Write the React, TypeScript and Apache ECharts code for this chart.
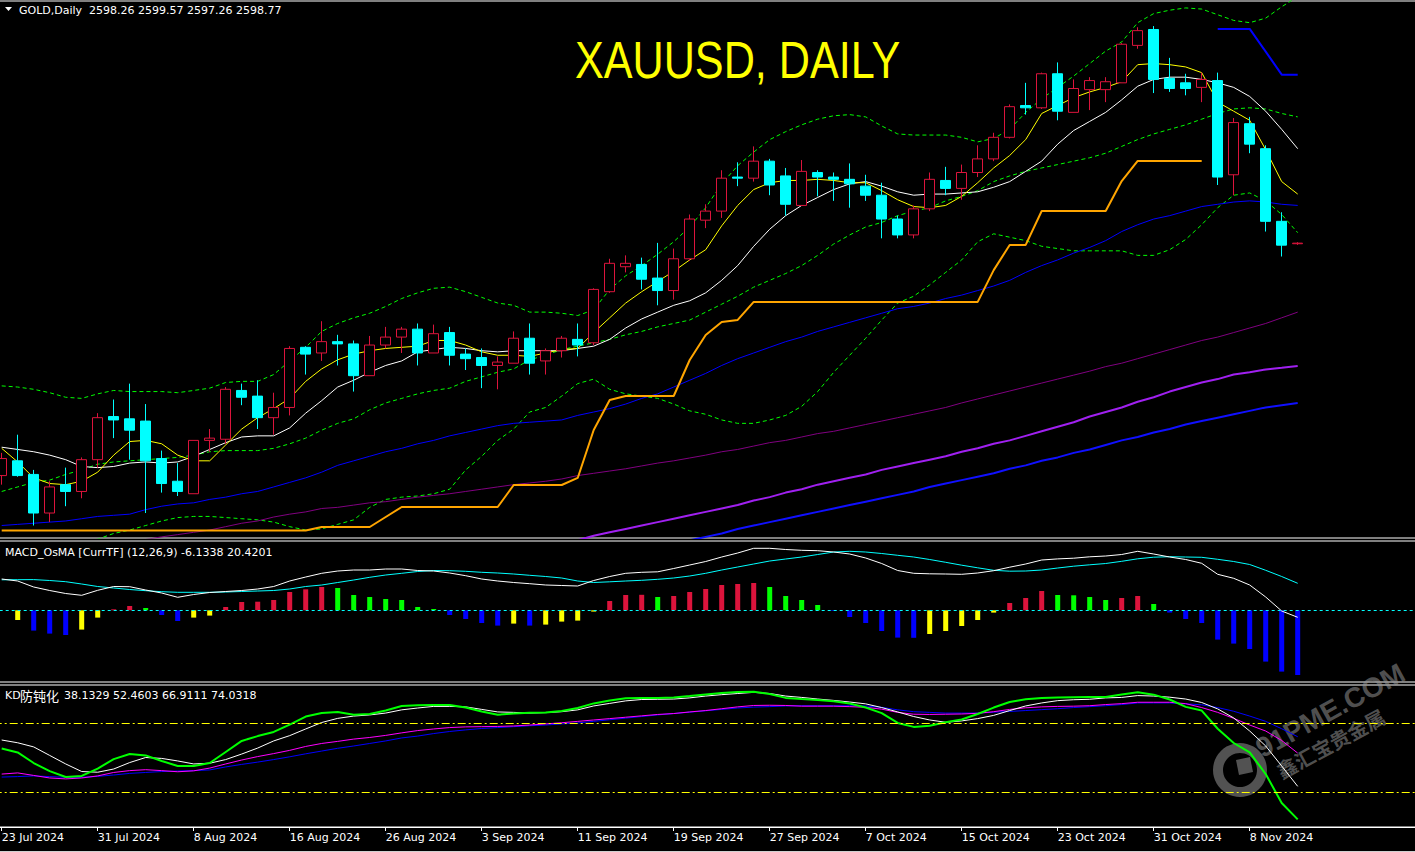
import React, { useEffect, useRef } from "react";
import * as echarts from "echarts";

// ---------- data ----------
const dates = [
  "23 Jul 2024","24 Jul 2024","25 Jul 2024","26 Jul 2024","29 Jul 2024","30 Jul 2024","31 Jul 2024",
  "1 Aug 2024","2 Aug 2024","5 Aug 2024","6 Aug 2024","7 Aug 2024","8 Aug 2024","9 Aug 2024",
  "12 Aug 2024","13 Aug 2024","14 Aug 2024","15 Aug 2024","16 Aug 2024",
  "19 Aug 2024","20 Aug 2024","21 Aug 2024","22 Aug 2024","23 Aug 2024",
  "26 Aug 2024","27 Aug 2024","28 Aug 2024","29 Aug 2024","30 Aug 2024",
  "2 Sep 2024","3 Sep 2024","4 Sep 2024","5 Sep 2024","6 Sep 2024",
  "9 Sep 2024","10 Sep 2024","11 Sep 2024","12 Sep 2024","13 Sep 2024",
  "16 Sep 2024","17 Sep 2024","18 Sep 2024","19 Sep 2024","20 Sep 2024",
  "23 Sep 2024","24 Sep 2024","25 Sep 2024","26 Sep 2024","27 Sep 2024",
  "30 Sep 2024","1 Oct 2024","2 Oct 2024","3 Oct 2024","4 Oct 2024",
  "7 Oct 2024","8 Oct 2024","9 Oct 2024","10 Oct 2024","11 Oct 2024",
  "14 Oct 2024","15 Oct 2024","16 Oct 2024","17 Oct 2024","18 Oct 2024",
  "21 Oct 2024","22 Oct 2024","23 Oct 2024","24 Oct 2024","25 Oct 2024",
  "28 Oct 2024","29 Oct 2024","30 Oct 2024","31 Oct 2024",
  "1 Nov 2024","4 Nov 2024","5 Nov 2024","6 Nov 2024","7 Nov 2024","8 Nov 2024",
  "11 Nov 2024","12 Nov 2024","13 Nov 2024",
];

const opens = [
  2394, 2407, 2395, 2361, 2386, 2380, 2408, 2446, 2444, 2442,
  2409, 2389, 2378, 2425, 2426, 2469, 2464, 2445, 2454, 2507,
  2502, 2512, 2510, 2482, 2509, 2516, 2523, 2502, 2520, 2501,
  2498, 2491, 2493, 2515, 2495, 2504, 2514, 2511, 2556, 2578,
  2580, 2568, 2557, 2585, 2619, 2627, 2657, 2656, 2671, 2658,
  2632, 2661, 2657, 2655, 2649, 2641, 2620, 2606, 2629, 2654,
  2647, 2661, 2673, 2692, 2720, 2718, 2748, 2714, 2734, 2734,
  2740, 2773, 2787, 2744, 2740, 2736, 2742, 2659, 2704, 2682,
  2618, 2598.26,
];
const closes = [
  2409, 2394, 2361, 2384, 2380, 2408, 2445, 2443, 2434, 2407,
  2387, 2380, 2425, 2427, 2470, 2463, 2445, 2454, 2506, 2501,
  2512, 2510, 2482, 2509, 2516, 2523, 2502, 2519, 2500, 2497,
  2491, 2494, 2515, 2493, 2504, 2515, 2509, 2558, 2581, 2581,
  2567, 2557, 2585, 2620, 2627, 2656, 2656, 2671, 2650, 2633,
  2662, 2657, 2655, 2651, 2641, 2620, 2606, 2629, 2655, 2647,
  2661, 2673, 2692, 2719, 2718, 2748, 2715, 2735, 2742, 2741,
  2774, 2786, 2743, 2735, 2735, 2743, 2657, 2705, 2686, 2618,
  2597, 2598.77,
];
const lows = [
  2386, 2393, 2350, 2353, 2367, 2374, 2401, 2427, 2408, 2361,
  2379, 2376, 2378, 2415, 2422, 2456, 2435, 2430, 2447, 2483,
  2495, 2491, 2468, 2482, 2506, 2502, 2491, 2502, 2491, 2487,
  2471, 2470, 2493, 2483, 2483, 2498, 2499, 2509, 2555, 2573,
  2558, 2544, 2549, 2583, 2612, 2621, 2649, 2653, 2641, 2623,
  2632, 2640, 2636, 2630, 2636, 2603, 2603, 2603, 2627, 2641,
  2637, 2657, 2671, 2691, 2712, 2717, 2707, 2714, 2716, 2723,
  2740, 2770, 2731, 2732, 2729, 2723, 2650, 2641, 2678, 2609,
  2587, 2597.26,
];
const highs = [
  2414, 2430, 2399, 2389, 2401, 2410, 2449, 2461, 2475, 2457,
  2416, 2405, 2425, 2435, 2472, 2475, 2478, 2467, 2508, 2508,
  2530, 2518, 2513, 2517, 2525, 2525, 2528, 2527, 2525, 2506,
  2506, 2499, 2521, 2528, 2506, 2517, 2528, 2559, 2585, 2588,
  2586, 2599, 2594, 2624, 2633, 2663, 2670, 2684, 2673, 2665,
  2672, 2663, 2661, 2669, 2659, 2652, 2623, 2632, 2661, 2666,
  2668, 2685, 2696, 2721, 2740, 2749, 2758, 2743, 2745, 2745,
  2775, 2789, 2790, 2762, 2748, 2749, 2749, 2709, 2710, 2685,
  2626, 2599.57,
];

// yellow (fast average)
const maFast = [
  2418, 2406, 2392, 2387, 2386, 2389, 2397, 2412, 2424, 2425,
  2422, 2412, 2407, 2407, 2421, 2435, 2445, 2453, 2462, 2477,
  2488, 2496, 2501, 2504, 2506, 2507, 2508, 2513, 2513, 2509,
  2503, 2500, 2500, 2499, 2502, 2505, 2506, 2520, 2533, 2546,
  2556, 2565, 2574, 2584, 2593, 2614, 2632, 2646, 2652, 2654,
  2654, 2655, 2654, 2652, 2652, 2645, 2637, 2631, 2630, 2632,
  2640, 2652, 2665, 2676, 2690, 2713, 2720, 2727, 2732, 2736,
  2741, 2756, 2757, 2756, 2754, 2749, 2723, 2715, 2707, 2681,
  2653, 2642,
];
// white (slower average)
const maSlow = [
  2419, 2417, 2415, 2412, 2408, 2402, 2401, 2402, 2405, 2406,
  2405, 2406, 2411, 2417, 2423, 2428, 2429, 2429, 2436, 2449,
  2460, 2472, 2478, 2485, 2491, 2495, 2503, 2505, 2507, 2506,
  2504, 2503, 2504, 2504, 2504, 2504, 2506, 2508, 2514, 2524,
  2532, 2538, 2544, 2548, 2555, 2566, 2579, 2596, 2611, 2623,
  2632, 2639, 2646, 2651, 2653, 2649, 2644, 2641, 2642, 2642,
  2643, 2644, 2648, 2653, 2662, 2671, 2686, 2698, 2706, 2714,
  2725, 2737, 2743, 2745, 2745, 2743, 2740, 2736, 2728, 2715,
  2699, 2682,
];
const bbUpper = [
  2473, 2472, 2470, 2467, 2463, 2462, 2466, 2469, 2468, 2468,
  2468, 2467, 2469, 2471, 2476, 2477, 2477, 2483, 2495, 2507,
  2521, 2528, 2533, 2537, 2543, 2550, 2555, 2559, 2560, 2556,
  2551, 2546, 2544, 2538, 2538, 2537, 2535, 2540, 2558, 2570,
  2579, 2589, 2600, 2613, 2630, 2651, 2667, 2679, 2690, 2697,
  2703, 2708, 2711, 2712, 2710, 2702, 2695, 2694, 2694, 2694,
  2692, 2688, 2691, 2699, 2714, 2726, 2736, 2746, 2757, 2768,
  2776, 2793, 2801, 2804, 2806, 2805, 2800, 2795, 2793, 2797,
  2807, 2816,
];
const bbMiddle = [
  2380, 2384, 2388, 2390, 2395, 2399, 2404, 2406, 2407, 2408,
  2409, 2410, 2412, 2415, 2416, 2416, 2416, 2418, 2422, 2427,
  2434, 2440, 2444, 2452, 2458, 2462, 2466, 2469, 2471, 2477,
  2481, 2485, 2488, 2496, 2500, 2505, 2508, 2511, 2514, 2518,
  2521, 2525, 2528, 2531, 2538, 2545, 2552, 2560, 2566, 2572,
  2579, 2588, 2598, 2606, 2613, 2617, 2623, 2627, 2630, 2636,
  2640, 2645, 2653, 2658, 2662, 2665, 2668, 2671, 2674, 2678,
  2684, 2690, 2695, 2699, 2703, 2708, 2713, 2717, 2718, 2717,
  2713, 2710,
];
const bbLower = [
  2288, 2297, 2305, 2314, 2326, 2336, 2338, 2343, 2346, 2350,
  2354, 2357, 2358, 2358, 2357, 2356, 2355, 2353, 2349, 2346,
  2347, 2351, 2355, 2366, 2373, 2375, 2376, 2378, 2382, 2399,
  2411, 2425, 2435, 2450, 2454, 2464, 2475, 2479, 2470, 2466,
  2464, 2462, 2457, 2451, 2448, 2443, 2440, 2440, 2443, 2447,
  2455, 2468, 2485, 2500, 2515, 2531, 2546, 2552, 2562, 2573,
  2584, 2600, 2607, 2604, 2601, 2596, 2594, 2592, 2592, 2592,
  2592, 2588, 2588, 2593, 2602, 2615, 2630, 2641, 2643, 2636,
  2624, 2608,
];
// thin blue average
const maBlue = [
  2350, 2351, 2352, 2353, 2354, 2356, 2358, 2359, 2360, 2364,
  2367, 2369, 2370, 2373, 2375, 2378, 2380, 2384, 2388, 2392,
  2397, 2403, 2407, 2411, 2415, 2418, 2422, 2425, 2429, 2432,
  2435, 2438, 2440, 2441, 2442, 2443, 2447, 2450, 2453, 2457,
  2462, 2466, 2472, 2478, 2484, 2491, 2497, 2502, 2507, 2512,
  2516, 2521, 2525, 2529, 2533, 2537, 2541, 2543, 2546, 2550,
  2553, 2557, 2561, 2566, 2573, 2579, 2584, 2590, 2595, 2601,
  2609, 2615, 2620, 2623, 2627, 2631, 2633, 2635, 2636, 2635,
  2633, 2632,
];
// thin purple average (visible from bar 8)
const maPurpleStart = 8;
const maPurple = [
  2335.5, 2337.7, 2340, 2342, 2344, 2346, 2349, 2352, 2354, 2357.5,
  2360, 2362, 2365, 2366, 2368, 2370, 2371, 2373, 2375, 2376.5,
  2378, 2380, 2382, 2384, 2386, 2387.5, 2389, 2391, 2394, 2396,
  2398, 2400, 2402.5, 2405, 2407, 2409.5, 2412, 2415, 2417, 2420,
  2423, 2425, 2428, 2431, 2433, 2436, 2439, 2442, 2445, 2448,
  2451, 2454, 2458, 2461.5, 2465, 2468.5, 2472, 2475.5, 2479, 2482.5,
  2486, 2490, 2493, 2497, 2501, 2505, 2509, 2513, 2516, 2520,
  2524, 2528, 2533, 2538,
];
// thick violet average (visible from bar 36)
const maVioletStart = 36;
const maViolet = [
  2337, 2341, 2344, 2347, 2350, 2353, 2356, 2359, 2362, 2365,
  2368, 2372, 2375, 2379, 2382, 2386, 2389, 2392, 2395, 2399,
  2402, 2405, 2408, 2411, 2415, 2418, 2422, 2425, 2429, 2433,
  2437, 2441, 2446, 2450, 2454, 2459, 2463, 2468, 2472, 2476,
  2479, 2483, 2485, 2487.5, 2489, 2490.6,
];
// thick blue average (visible from bar 43)
const maBlueThickStart = 43;
const maBlueThick = [
  2337, 2340, 2343, 2347, 2350, 2353, 2356, 2359, 2362, 2365,
  2368, 2371, 2374, 2377, 2380, 2384, 2387, 2390, 2393, 2396,
  2400, 2403, 2407, 2410, 2414, 2417, 2421, 2425, 2428, 2432,
  2435, 2439, 2442, 2445, 2448, 2451, 2454, 2456, 2458,
];
// orange trailing stop (bars 0..75)
const stopUp = [
  2345.6, 2345.6, 2345.6, 2345.6, 2345.6, 2345.6, 2345.6, 2345.6, 2345.6, 2345.6,
  2345.6, 2345.6, 2345.6, 2345.6, 2345.6, 2345.6, 2345.6, 2345.6, 2345.6, 2345.6,
  2348.7, 2348.7, 2348.7, 2348.7, 2357.5, 2366.3, 2366.3, 2366.3, 2366.3, 2366.3,
  2366.3, 2366.3, 2385.7, 2385.7, 2385.7, 2385.7, 2391.9, 2434.2, 2460.6, 2464.1,
  2464.1, 2464.1, 2464.1, 2495.8, 2517.9, 2529.3, 2531.1, 2547, 2547, 2547,
  2547, 2547, 2547, 2547, 2547, 2547, 2547, 2547, 2547, 2547,
  2547, 2547, 2575, 2597.2, 2597.2, 2627.1, 2627.1, 2627.1, 2627.1, 2627.1,
  2653.5, 2671.2, 2671.2, 2671.2, 2671.2, 2671.2,
];
// blue trailing stop (bars 76..81)
const stopDownStart = 76;
const stopDown = [2787.5, 2787.5, 2787.5, 2767.5, 2747.2, 2747.2];

// MACD_OsMA panel
const osma = [
  null, -9.7, -20.3, -23.3, -24.7, -19.3, -7.3, 1, 4.3, 2.3,
  -4.7, -10.7, -7.3, -5.3, 3.3, 8.3, 8.6, 10.3, 18.3, 21,
  23.3, 22.3, 15.3, 13.3, 11.3, 10.3, 3.3, 1.3, -4.7, -8.7,
  -12.7, -15.3, -13.3, -15.3, -14.3, -11.3, -10.3, -1.3, 9.3, 15.3,
  15.5, 13.3, 14.3, 18.3, 21.3, 25.3, 26.3, 27.3, 23.3, 14.3,
  10.3, 5.3, -0.7, -6.7, -12.7, -20.7, -27.3, -27.5, -23.7, -20.7,
  -15.7, -9.7, -2.3, 7.3, 12.3, 19.3, 15.3, 15.0, 13.3, 10.3,
  12.3, 14.3, 6.3, -2.3, -8.7, -12.7, -29.3, -33.3, -38.7, -51.3,
  -61.3, -64.7,
];
const macdMain = [
  31.3, 29.3, 23.3, 19.8, 16.8, 15, 20, 23.8, 23.6, 20.3,
  17.3, 13, 15.8, 17.8, 18.8, 19.8, 21.3, 23.8, 29.3, 33.3,
  37, 39.3, 40.3, 40.3, 41.3, 41.3, 39.8, 39.3, 37.3, 34.6,
  31.3, 29.3, 27.8, 26.6, 25.3, 24.8, 24.3, 29.8, 33.8, 37,
  38, 38.5, 41.8, 45.3, 48.8, 53.3, 57.3, 62, 62, 60.8,
  60, 59.6, 58.3, 56.3, 52.3, 46.8, 39.8, 37, 36.5, 36.3,
  36, 37.3, 39.6, 43.1, 46.3, 50.3, 51.4, 52.1, 53.5, 54.3,
  55.8, 59, 56.3, 53.3, 50.8, 47, 36, 32, 25.3, 13.3,
  -0.7, -7,
];
const macdSignal = [
  30.5, 30.6, 30.7, 29.8, 28.6, 26.3, 23.8, 22.3, 20.8, 19.6,
  18.6, 18, 18, 18, 18.3, 18.8, 19.3, 19.8, 21.3, 23.8,
  25.3, 27.8, 30.3, 33, 35.3, 37, 38.8, 39.8, 39.6, 39,
  38, 37.3, 36.3, 35, 33.8, 32.3, 29.3, 27.8, 28.5, 29.3,
  30, 31, 32.3, 34.3, 37, 40.3, 43.3, 46.3, 49.3, 51.3,
  53.3, 55.8, 58.3, 59, 58.3, 56.8, 55, 53.3, 50.8, 48,
  45.1, 42.5, 40, 39.1, 39.3, 40.3, 42.3, 44.1, 45.5, 46.8,
  49, 51.5, 53.1, 53.6, 53.3, 53, 51, 48.8, 45.8, 40,
  33.8, 27,
];

// KD panel
const kdGreen = [
  68.9, 67.2, 62.6, 59.1, 56.5, 57, 60.2, 64.3, 66.5, 65.9,
  63.5, 61.3, 61.3, 62.6, 67.4, 72.2, 74.3, 76.1, 79.3, 82.8,
  84.3, 84.8, 83.6, 83.9, 85.4, 87.4, 87.7, 87.8, 87.8, 86.7,
  85, 83.6, 84.1, 84.4, 84.6, 85.2, 86.5, 88.5, 89.8, 90.7,
  90.9, 90.8, 91.1, 91.7, 92.4, 93, 93.5, 93.6, 92.6, 90.9,
  90.4, 90, 89.4, 88.5, 86.7, 84.3, 80, 78.3, 78.8, 80.3,
  81.5, 83.9, 86.7, 89.1, 90.3, 90.9, 91.1, 91.2, 91.3, 91.3,
  92.4, 93.3, 92.3, 90.2, 87, 85.4, 77.5, 71.3, 67.2, 57.8,
  45.2, 38.13,
];
const kdWhite = [
  72.6, 71.4, 69.6, 65.9, 62.2, 58.9, 58.6, 60, 62.8, 65,
  64.6, 63.5, 62.2, 62.5, 64.1, 66.5, 69.1, 72.2, 74.5, 77.4,
  80.2, 82, 83, 83.5, 84.3, 85.7, 86.5, 87.2, 87.2, 87,
  85.9, 84.8, 84.6, 84.3, 84.5, 84.9, 85.7, 87.4, 88.5, 89.6,
  90.2, 90.3, 90.4, 90.9, 91.7, 92.3, 92.8, 93.3, 92.8, 91.7,
  91.1, 90.4, 89.8, 89.1, 88.3, 86.7, 84.8, 82.8, 81.3, 80.3,
  80.9, 81.9, 83.3, 85.4, 87.4, 88.7, 89.7, 90.1, 90.3, 90.9,
  91.1, 91.9, 91.7, 91.2, 90.4, 88.9, 86.1, 82.2, 76.5, 70,
  61.3, 52.46,
];
const kdMagenta = [
  57.8, 58.3, 57.2, 56.1, 55.7, 56.1, 57, 58.5, 59.3, 59.7,
  59.3, 58.8, 59.2, 60.4, 62.2, 63.9, 65.4, 66.7, 68.1, 69.8,
  71.1, 72, 73, 73.7, 74.6, 75.7, 76.7, 77.4, 78, 78.3,
  78.4, 78.5, 78.7, 79.1, 79.6, 80.1, 80.7, 81.3, 81.9, 82.5,
  83.1, 83.7, 84.1, 84.8, 85.4, 86.2, 87, 87.6, 87.7, 87.6,
  87.3, 87.3, 87.3, 87.1, 86.8, 86, 84.6, 83.8, 83.7, 83.8,
  83.9, 84.2, 84.9, 85.9, 86.6, 87, 87.2, 87.3, 87.5, 88,
  88.4, 89, 89, 89, 88.4, 86.7, 84.6, 82, 79.1, 76.5,
  72.4, 66.91,
];
const kdBlue = [
  56.5, 56.7, 57, 56.7, 56.4, 56.4, 56.8, 57.4, 58.1, 58.5,
  58.9, 59.1, 59.3, 59.6, 60.9, 62, 63, 64.1, 65.3, 66.6,
  67.8, 69, 70, 71.1, 72.2, 73.5, 74.3, 75.4, 76.3, 77,
  77.6, 78, 78.4, 78.8, 79.1, 79.6, 80, 80.7, 81.4, 82.1,
  82.8, 83.5, 84.1, 84.7, 85.3, 85.9, 86.5, 86.9, 87.1, 87.4,
  87.5, 87.5, 87.5, 87.5, 87.4, 86.8, 85.7, 84.9, 84.6, 84.3,
  84.3, 84.3, 84.7, 85, 85.4, 85.8, 86.2, 86.7, 87.1, 87.5,
  88, 88.7, 88.7, 88.7, 88.3, 87.9, 86.7, 85.1, 83, 80.7,
  77.5, 74.03,
];
const kdLevels = [80, 50];

const headerText = "GOLD,Daily  2598.26 2599.57 2597.26 2598.77";
const macdTitle = "MACD_OsMA [CurrTF] (12,26,9) -6.1338 20.4201";
const kdName = "KD";
const kdNameCjk = "防钝化";
const kdValues = "38.1329 52.4603 66.9111 74.0318";
const chartTitle = "XAUUSD, DAILY";
const labelEvery = 6;

// ---------- layout ----------
const W = 1415;
const H = 852;
const OX = 8; // canvas starts 8px left of the page so the first bar can sit at x≈1.7
const CW = W + OX + 16;
const BAR_PX = 16;
const PAD_BARS = 7;
const GRID_LEFT = 1.7 + OX - BAR_PX / 2;
const SMALL = '"DejaVu Sans", Verdana, "Noto Sans CJK SC", sans-serif';
const CJK = '"Noto Sans CJK SC", sans-serif';
const TITLE = '"Liberation Sans", Arial, sans-serif';

function pad(start: number, vals: number[]) {
  const out: (number | null)[] = [];
  for (let i = 0; i < start; i++) out.push(null);
  return out.concat(vals);
}

export default function App() {
  const ref = useRef<HTMLDivElement>(null);
  useEffect(() => {
    const el = ref.current!;
    const chart = echarts.init(el, null, { renderer: "svg", width: CW, height: H });
    const n = dates.length;
    const cats = dates.concat(Array.from({ length: PAD_BARS }, (_, k) => " ".repeat(k + 1)));
    const gridW = BAR_PX * cats.length;
    const grid = (top: number, height: number) => ({
      left: GRID_LEFT, top, width: gridW, height,
      show: true, borderColor: "#ffffff", borderWidth: 1, backgroundColor: "transparent",
    });
    const labelFn = (i: number) => i % labelEvery === 0 && i < n - 2;
    const xAxis = [0, 1, 2].map((g) => ({
      type: "category", gridIndex: g, data: cats, boundaryGap: true,
      axisLine: { show: g === 2, lineStyle: { color: "#ffffff", width: 1 } },
      axisTick: { show: g === 2, interval: labelFn, alignWithLabel: true, length: 4, lineStyle: { color: "#ffffff" } },
      axisLabel: {
        show: g === 2, interval: labelFn, color: "#ffffff", fontSize: 11, fontFamily: SMALL,
        align: "left", margin: 5,
      },
      splitLine: { show: false },
    }));
    const yAxis = [
      { gridIndex: 0, min: 2339, max: 2812.1 },
      { gridIndex: 1, min: -71.7, max: 69.3 },
      { gridIndex: 2, min: 34.8, max: 96.5 },
    ].map((a) => ({ type: "value", ...a, show: false, splitLine: { show: false }, scale: true }));

    const line = (data: (number | null)[], color: string, width: number, axis: number, extra: any = {}) => ({
      type: "line", xAxisIndex: axis, yAxisIndex: axis, data, symbol: "none", showSymbol: false,
      silent: true, z: 2, lineStyle: { color, width, ...(extra.lineStyle || {}) },
      ...(extra.markLine ? { markLine: extra.markLine } : {}),
    });
    const dashed = { lineStyle: { type: [4, 3] } };

    const histColors = osma.map((v, i) => {
      if (v === null) return "#000";
      const prev = i > 0 && osma[i - 1] !== null ? (osma[i - 1] as number) : v;
      if (v >= 0) return v > prev ? "#DC143C" : "#00FF00";
      return v < prev ? "#0000FF" : "#FFFF00";
    });

    const wm = "rgba(150,150,150,0.55)";
    const text = (x: number, y: number, t: string, fill: string, font: string, extra: any = {}) => ({
      type: "text", x, y, ...extra,
      style: { text: t, fill, font, textVerticalAlign: "middle", verticalAlign: "middle" },
    });

    const option: any = {
      animation: false,
      backgroundColor: "#000000",
      grid: [grid(1, 537), grid(541, 141), grid(685, 142)],
      xAxis,
      yAxis,
      series: [
        line(bbUpper, "#00FF00", 1, 0, dashed),
        line(bbMiddle, "#00FF00", 1, 0, dashed),
        line(bbLower, "#00FF00", 1, 0, dashed),
        line(maBlue, "#0000FF", 1, 0),
        line(pad(maPurpleStart, maPurple), "#800080", 1, 0),
        line(pad(maVioletStart, maViolet), "#A020F0", 2, 0),
        line(pad(maBlueThickStart, maBlueThick), "#1010FF", 2, 0),
        line(stopUp, "#FFA500", 2, 0),
        line(pad(stopDownStart, stopDown), "#0000FF", 2, 0),
        line(maSlow, "#FFFFFF", 1, 0),
        line(maFast, "#FFFF00", 1, 0),
        {
          type: "candlestick", xAxisIndex: 0, yAxisIndex: 0, barWidth: 11, silent: true, z: 5,
          data: dates.map((_, i) => [opens[i], closes[i], lows[i], highs[i]]),
          itemStyle: {
            color: "#000000", color0: "#00FFFF",
            borderColor: "#DC143C", borderColor0: "#00FFFF", borderWidth: 1,
          },
        },
        {
          type: "bar", xAxisIndex: 1, yAxisIndex: 1, barWidth: 5, silent: true,
          data: osma.map((v, i) => ({ value: v, itemStyle: { color: histColors[i] } })),
          markLine: {
            silent: true, symbol: "none", label: { show: false },
            lineStyle: { color: "#00FFFF", type: [3, 3], width: 1 },
            data: [{ yAxis: 0 }],
          },
        },
        line(macdSignal, "#00FFFF", 1, 1),
        line(macdMain, "#FFFFFF", 1, 1),
        line(kdBlue, "#0000FF", 1, 2, {
          markLine: {
            silent: true, symbol: "none", label: { show: false },
            lineStyle: { color: "#FFFF00", type: [8, 3, 2, 3], width: 1 },
            data: kdLevels.map((v) => ({ yAxis: v })),
          },
        }),
        line(kdMagenta, "#FF00FF", 1, 2),
        line(kdWhite, "#FFFFFF", 1, 2),
        line(kdGreen, "#00FF00", 2, 2),
      ],
      graphic: [
        {
          type: "group", x: OX, y: 0,
          children: [
            { type: "polygon", shape: { points: [[5, 7], [12, 7], [8.5, 11]] }, style: { fill: "#ffffff" } },
            text(19, 10, headerText, "#ffffff", `11px ${SMALL}`),
            text(5, 552, macdTitle, "#ffffff", `11px ${SMALL}`),
            text(5, 695, kdName, "#ffffff", `11px ${SMALL}`),
            text(20, 695, kdNameCjk, "#ffffff", `13px ${CJK}`),
            text(64, 695, kdValues, "#ffffff", `11px ${SMALL}`),
            text(575, 60, chartTitle, "#FFFF00", `52px ${TITLE}`, { scaleX: 0.83, scaleY: 1 }),
            // watermark
            { type: "ring", shape: { cx: 1240, cy: 770, r: 27, r0: 17 }, style: { fill: wm } },
            { type: "polygon", shape: { points: [[1236, 760], [1250, 757], [1253, 772], [1239, 775]] }, style: { fill: wm } },
            text(1258, 750, "91PME.COM", wm, `bold 28px ${TITLE}`, { rotation: 0.5 }),
            text(1278, 772, "鑫汇宝贵金属", wm, `bold 20px ${CJK}`, { rotation: 0.5 }),
            { type: "line", shape: { x1: 0, y1: 851.5, x2: W, y2: 851.5 }, style: { stroke: "#d0d0d0", lineWidth: 1 } },
          ],
        },
      ],
    };
    chart.setOption(option);
    return () => chart.dispose();
  }, []);
  return (
    <div
      ref={ref}
      style={{ position: "fixed", left: -OX, top: 0, width: CW, height: H, background: "#000" }}
    />
  );
}
